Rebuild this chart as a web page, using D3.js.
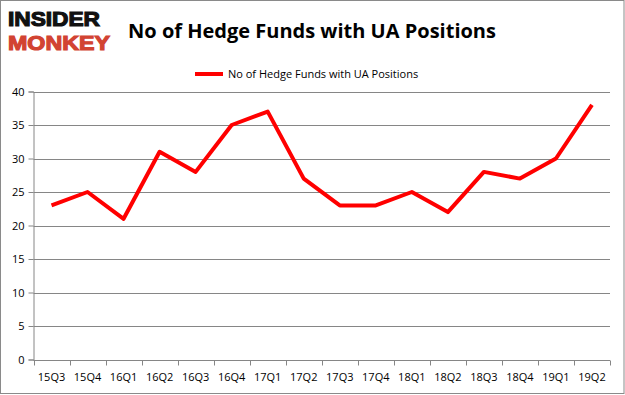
<!DOCTYPE html>
<html>
<head>
<meta charset="utf-8">
<script src="https://d3js.org/d3.v7.min.js"></script>
<style>
  body { margin: 0; background: #fff; }
  svg { display: block; }
  text { font-family: "Open Sans", "DejaVu Sans", sans-serif; }
</style>
</head>
<body>
<div id="chart"></div>
<script>
  const quarters = ["15Q3", "15Q4", "16Q1", "16Q2", "16Q3", "16Q4", "17Q1", "17Q2",
                    "17Q3", "17Q4", "18Q1", "18Q2", "18Q3", "18Q4", "19Q1", "19Q2"];
  const funds = [23, 25, 21, 31, 28, 35, 37, 27, 23, 23, 25, 22, 28, 27, 30, 38];
  const yTicks = [0, 5, 10, 15, 20, 25, 30, 35, 40];
  const seriesName = "No of Hedge Funds with UA Positions";

  const width = 625, height = 395;
  const margin = { top: 91.5, right: 15, bottom: 35.5, left: 33.5 };

  const svg = d3.select("#chart").append("svg")
    .attr("width", width)
    .attr("height", height);

  // frame
  svg.append("rect")
    .attr("x", 0.5).attr("y", 0.5)
    .attr("width", width - 1.5).attr("height", height - 2)
    .attr("fill", "#fff").attr("stroke", "#8a8a8a");

  const x = d3.scaleBand()
    .domain(quarters)
    .range([margin.left, width - margin.right]);

  const y = d3.scaleLinear()
    .domain([0, 40])
    .range([height - margin.bottom, margin.top]);

  // gridlines
  svg.append("g")
    .selectAll("line")
    .data(yTicks)
    .join("line")
    .attr("x1", margin.left)
    .attr("x2", width - margin.right)
    .attr("y1", d => Math.round(y(d)) + 0.5)
    .attr("y2", d => Math.round(y(d)) + 0.5)
    .attr("stroke", "#868686");

  // y axis
  const yAxis = svg.append("g")
    .attr("transform", `translate(${margin.left},0)`)
    .call(d3.axisLeft(y).tickValues(yTicks).tickSize(5).tickPadding(4));
  yAxis.select(".domain").attr("stroke", "#868686");
  yAxis.selectAll(".tick line").attr("stroke", "#868686");
  yAxis.selectAll(".tick text").attr("font-size", 11).attr("fill", "#000");

  // x axis with ticks at band edges
  const xAxis = svg.append("g")
    .attr("transform", `translate(0,${Math.round(y(0)) + 0.5})`);
  xAxis.append("line")
    .attr("x1", margin.left).attr("x2", width - margin.right)
    .attr("stroke", "#868686");
  const edges = quarters.map(q => x(q)).concat([x.range()[1]]);
  xAxis.selectAll("line.tk")
    .data(edges)
    .join("line")
    .attr("class", "tk")
    .attr("x1", d => Math.round(d) + 0.5).attr("x2", d => Math.round(d) + 0.5)
    .attr("y1", 0).attr("y2", 5)
    .attr("stroke", "#868686");
  xAxis.selectAll("text")
    .data(quarters)
    .join("text")
    .attr("x", d => x(d) + x.bandwidth() / 2)
    .attr("y", 20)
    .attr("text-anchor", "middle")
    .attr("font-size", 11)
    .attr("fill", "#000")
    .text(d => d);

  // series line
  const line = d3.line()
    .x((d, i) => x(quarters[i]) + x.bandwidth() / 2)
    .y(d => y(d));

  svg.append("path")
    .datum(funds)
    .attr("d", line)
    .attr("fill", "none")
    .attr("stroke", "#ff0000")
    .attr("stroke-width", 4)
    .attr("stroke-linejoin", "round");

  // title
  svg.append("text")
    .attr("x", 312)
    .attr("y", 38)
    .attr("text-anchor", "middle")
    .attr("font-size", 20)
    .attr("font-weight", "bold")
    .attr("fill", "#000")
    .text(seriesName);

  // legend
  svg.append("line")
    .attr("x1", 195).attr("x2", 223)
    .attr("y1", 74).attr("y2", 74)
    .attr("stroke", "#ff0000")
    .attr("stroke-width", 4);
  svg.append("text")
    .attr("x", 228)
    .attr("y", 78)
    .attr("font-size", 11)
    .attr("fill", "#000")
    .text(seriesName);

  // logo (tight font so the two lines don't collide, stroked for weight)
  svg.append("text")
    .attr("x", 8).attr("y", 26)
    .style("font-family", "'Liberation Sans', Arial, sans-serif")
    .attr("font-size", 21)
    .attr("font-weight", 900)
    .attr("textLength", 92)
    .attr("lengthAdjust", "spacingAndGlyphs")
    .attr("fill", "#111")
    .attr("stroke", "#111")
    .attr("stroke-width", 1.2)
    .text("INSIDER");
  svg.append("text")
    .attr("x", 8).attr("y", 50)
    .style("font-family", "'Liberation Sans', Arial, sans-serif")
    .attr("font-size", 21)
    .attr("font-weight", 900)
    .attr("textLength", 102)
    .attr("lengthAdjust", "spacingAndGlyphs")
    .attr("fill", "#d24332")
    .attr("stroke", "#d24332")
    .attr("stroke-width", 1.2)
    .text("MONKEY");
</script>
</body>
</html>
